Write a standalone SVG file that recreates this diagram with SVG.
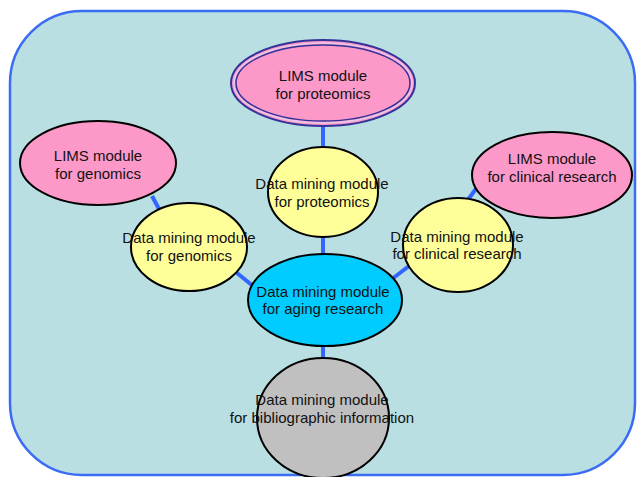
<svg xmlns="http://www.w3.org/2000/svg" width="637" height="477" viewBox="0 0 637 477">
<style>
.t{font-family:"Liberation Sans",Arial,sans-serif;font-size:15px;fill:#111;text-anchor:middle}
.n{stroke:#000;stroke-width:2}
.pink{fill:#fd99c9}
.yel{fill:#ffff99}
.c{stroke:#3366ff;stroke-width:4;fill:none}
</style>
<rect x="10" y="11" width="625" height="464" rx="72" ry="72" fill="#b9dfe2" stroke="#3a6cf4" stroke-width="2.5"/>
<g id="connectors">
<line class="c" x1="323" y1="126" x2="323" y2="148"/>
<line class="c" x1="323" y1="236" x2="323" y2="255"/>
<line class="c" x1="152" y1="196" x2="159" y2="209"/>
<line class="c" x1="237" y1="273" x2="253" y2="286"/>
<line class="c" x1="409" y1="266" x2="392" y2="279"/>
<line class="c" x1="478" y1="186" x2="467" y2="201"/>
<line class="c" x1="323" y1="345" x2="323" y2="359"/>
</g>
<g id="lims-proteomics">
<ellipse cx="323" cy="83" rx="92" ry="43" fill="#fd99c9" stroke="#333399" stroke-width="2"/>
<ellipse cx="323" cy="83" rx="89" ry="40" fill="none" stroke="#e8c8e8" stroke-width="1.5"/>
<ellipse cx="323" cy="83" rx="87" ry="38" fill="none" stroke="#333399" stroke-width="1.5"/>
<text class="t" x="323" y="81">LIMS module</text>
<text class="t" x="323" y="99">for proteomics</text>
</g>
<g id="lims-genomics">
<ellipse class="n pink" cx="98" cy="163" rx="78" ry="42"/>
<text class="t" x="98" y="161">LIMS module</text>
<text class="t" x="98" y="179">for genomics</text>
</g>
<g id="lims-clinical">
<ellipse class="n pink" cx="552" cy="175" rx="80" ry="43"/>
<text class="t" x="552" y="164">LIMS module</text>
<text class="t" x="552" y="182">for clinical research</text>
</g>
<g id="dm-proteomics">
<ellipse class="n yel" cx="323" cy="192" rx="55" ry="45"/>
<text class="t" x="322" y="189">Data mining module</text>
<text class="t" x="322" y="207">for proteomics</text>
</g>
<g id="dm-genomics">
<ellipse class="n yel" cx="189" cy="247" rx="58" ry="44"/>
<text class="t" x="189" y="243">Data mining module</text>
<text class="t" x="189" y="261">for genomics</text>
</g>
<g id="dm-clinical">
<ellipse class="n yel" cx="458" cy="245" rx="55" ry="47"/>
<text class="t" x="457" y="242">Data mining module</text>
<text class="t" x="457" y="259">for clinical research</text>
</g>
<g id="dm-aging">
<ellipse class="n" fill="#00ccff" cx="325" cy="300" rx="77" ry="46"/>
<text class="t" x="323" y="297">Data mining module</text>
<text class="t" x="323" y="314">for aging research</text>
</g>
<g id="dm-bibliographic">
<ellipse class="n" fill="#c0c0c0" cx="323" cy="418" rx="66" ry="60"/>
<text class="t" x="322" y="405">Data mining module</text>
<text class="t" x="322" y="423">for bibliographic information</text>
</g>
</svg>
